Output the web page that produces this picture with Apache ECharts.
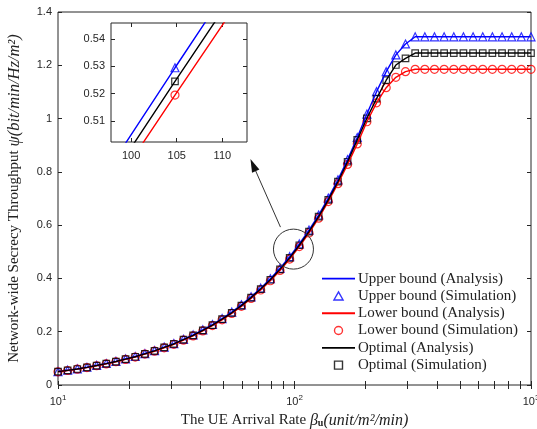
<!DOCTYPE html>
<html>
<head>
<meta charset="utf-8">
<script src="https://cdn.jsdelivr.net/npm/echarts@6/dist/echarts.min.js"></script>
<style>
html, body { margin: 0; padding: 0; background: #fff; }
#chart { width: 537px; height: 429px; }
</style>
</head>
<body>
<div id="chart"></div>
<script>
// UE arrival rate (50 points, log spaced 10..1000)
const arrivalRate = [
  10, 10.985, 12.068, 13.257, 14.563, 15.999, 17.575, 19.307, 21.210, 23.300,
  25.595, 28.118, 30.888, 33.932, 37.276, 40.949, 44.984, 49.417, 54.287, 59.636,
  65.513, 71.969, 79.060, 86.851, 95.410, 104.81, 115.14, 126.49, 138.95, 152.64,
  167.68, 184.21, 202.36, 222.30, 244.21, 268.27, 294.71, 323.75, 355.65, 390.70,
  429.19, 471.49, 517.95, 568.99, 625.06, 686.65, 754.31, 828.64, 910.30, 1000
]
const upperBound = [
  0.0505, 0.0555, 0.0606, 0.0666, 0.0737, 0.0808, 0.0888, 0.0979, 0.1070, 0.1181,
  0.1292, 0.1423, 0.1555, 0.1716, 0.1878, 0.2069, 0.2271, 0.2493, 0.2736, 0.3008,
  0.3311, 0.3634, 0.3988, 0.4381, 0.4815, 0.5295, 0.5815, 0.6380, 0.7016, 0.7702,
  0.8460, 0.929, 1.017, 1.101, 1.176, 1.239, 1.280, 1.307, 1.307, 1.307,
  1.307, 1.307, 1.307, 1.307, 1.307, 1.307, 1.307, 1.307, 1.307, 1.307
]
const lowerBound = [
  0.0495, 0.0545, 0.0594, 0.0654, 0.0723, 0.0792, 0.0872, 0.0961, 0.1050, 0.1159,
  0.1268, 0.1397, 0.1525, 0.1684, 0.1842, 0.2031, 0.2229, 0.2447, 0.2684, 0.2952,
  0.3249, 0.3566, 0.3912, 0.4299, 0.4725, 0.5195, 0.5705, 0.6260, 0.6884, 0.7557,
  0.828, 0.905, 0.988, 1.059, 1.116, 1.155, 1.176, 1.185, 1.185, 1.185,
  1.185, 1.185, 1.185, 1.185, 1.185, 1.185, 1.185, 1.185, 1.185, 1.185
]
const optimal = [
  0.050, 0.055, 0.060, 0.066, 0.073, 0.080, 0.088, 0.097, 0.106, 0.117,
  0.128, 0.141, 0.154, 0.170, 0.186, 0.205, 0.225, 0.247, 0.271, 0.298,
  0.328, 0.360, 0.395, 0.434, 0.477, 0.5245, 0.576, 0.632, 0.695, 0.763,
  0.838, 0.920, 1.001, 1.075, 1.144, 1.201, 1.226, 1.246, 1.246, 1.246,
  1.246, 1.246, 1.246, 1.246, 1.246, 1.246, 1.246, 1.246, 1.246, 1.246
]

const xTicks = [10, 20, 30, 40, 50, 60, 70, 80, 90, 100, 200, 300, 400, 500, 600, 700, 800, 900, 1000]
const xLabels = [10, 100, 1000]
const insetXTicks = [100, 105, 110]
const insetYTicks = [0.51, 0.52, 0.53, 0.54]

const lineIcon = 'path://M0,0 L33,0 L33,1.8 L0,1.8 Z'
const curves = [
  { name: 'Upper bound', color: '#0000ff', values: upperBound, symbol: 'triangle', size: 8,
    icon: 'path://M4,0 L8,7 L0,7 Z' },
  { name: 'Lower bound', color: '#ff0000', values: lowerBound, symbol: 'circle', size: 8,
    icon: 'path://M7,3.5 A3.5,3.5 0 1,1 0,3.5 A3.5,3.5 0 1,1 7,3.5 Z' },
  { name: 'Optimal', color: '#000000', values: optimal, symbol: 'rect', size: 6.5,
    icon: 'path://M0,0 L6,0 L6,6 L0,6 Z' },
]

const axisColor = '#262626'
const tickFont = { fontFamily: 'Liberation Sans', fontSize: 11, color: axisColor }
const serif = 'Liberation Serif'

function pairs(values) {
  return arrivalRate.map((x, i) => [x, values[i]])
}

function buildSeries(xIdx, yIdx, suffix) {
  const list = []
  curves.forEach((c) => {
    list.push({
      name: c.name + ' (Analysis)' + suffix,
      type: 'line',
      xAxisIndex: xIdx,
      yAxisIndex: yIdx,
      symbol: 'none',
      clip: true,
      lineStyle: { color: c.color, width: 1.4 },
      itemStyle: { color: c.color },
      data: pairs(c.values),
    })
    list.push({
      name: c.name + ' (Simulation)' + suffix,
      type: 'scatter',
      xAxisIndex: xIdx,
      yAxisIndex: yIdx,
      symbol: c.symbol,
      symbolSize: c.size,
      clip: true,
      itemStyle: { color: 'rgba(0,0,0,0)', borderColor: c.color, borderWidth: 1.2 },
      data: pairs(c.values),
    })
  })
  return list
}

const legendData = []
curves.forEach((c) => {
  legendData.push({
    name: c.name + ' (Analysis)',
    icon: lineIcon,
    itemStyle: { color: c.color, borderWidth: 0 },
  })
  legendData.push({
    name: c.name + ' (Simulation)',
    icon: c.icon,
    itemStyle: { color: 'rgba(0,0,0,0)', borderColor: c.color, borderWidth: 1.4 },
  })
})

const tickStyle = { inside: true, length: 4, lineStyle: { color: axisColor, width: 1 } }

const chart = echarts.init(document.getElementById('chart'))

chart.setOption({
  animation: false,
  backgroundColor: '#fff',
  grid: [
    { left: 58, right: 6, top: 12, bottom: 44, show: true, borderColor: axisColor, borderWidth: 1,
      backgroundColor: '#fff', containLabel: false, outerBoundsMode: 'none' },
    { left: 111, top: 23, width: 136, height: 119, show: true, borderColor: axisColor, borderWidth: 1,
      backgroundColor: '#fff', containLabel: false, outerBoundsMode: 'none' },
  ],
  xAxis: [
    {
      type: 'log', logBase: 10, min: 10, max: 1000, gridIndex: 0, position: 'bottom',
      axisLine: { show: false },
      axisTick: Object.assign({ customValues: xTicks }, tickStyle),
      splitLine: { show: false },
      axisLabel: Object.assign({
        customValues: xLabels,
        margin: 9,
        formatter: (v) => '10{e|' + Math.round(Math.log10(v)) + '}',
        rich: { e: { fontFamily: 'Liberation Sans', fontSize: 8, color: axisColor, padding: [0, 0, 8, 0] } },
      }, tickFont),
      name: '{n|The UE Arrival Rate }{m|β}{s|u}{m|(unit/m²/min)}',
      nameLocation: 'middle',
      nameGap: 25,
      nameTextStyle: {
        rich: {
          n: { fontFamily: serif, fontSize: 15, color: '#222' },
          m: { fontFamily: serif, fontSize: 16, fontStyle: 'italic', color: '#222' },
          s: { fontFamily: serif, fontSize: 10, fontWeight: 'bold', color: '#222', padding: [6, 0, 0, 0] },
        },
      },
    },
    {
      type: 'log', logBase: 10, min: 10, max: 1000, gridIndex: 0, position: 'top',
      axisLine: { show: false },
      axisTick: Object.assign({ customValues: xTicks }, tickStyle),
      axisLabel: { show: false },
      splitLine: { show: false },
    },
    {
      type: 'value', min: 97.8, max: 112.7, gridIndex: 1, position: 'bottom',
      axisLine: { show: false },
      axisTick: Object.assign({ customValues: insetXTicks }, tickStyle),
      axisLabel: Object.assign({ customValues: insetXTicks, margin: 8 }, tickFont),
      splitLine: { show: false },
    },
    {
      type: 'value', min: 97.8, max: 112.7, gridIndex: 1, position: 'top',
      axisLine: { show: false },
      axisTick: Object.assign({ customValues: insetXTicks }, tickStyle),
      axisLabel: { show: false },
      splitLine: { show: false },
    },
  ],
  yAxis: [
    {
      type: 'value', min: 0, max: 1.4, interval: 0.2, gridIndex: 0, position: 'left',
      axisLine: { show: false },
      axisTick: tickStyle,
      splitLine: { show: false },
      axisLabel: Object.assign({ margin: 6 }, tickFont),
      name: '{n|Network-wide Secrecy Throughput }{m|ψ(bit/min/Hz/m²)}',
      nameLocation: 'middle',
      nameRotate: 90,
      nameGap: 35,
      nameTextStyle: {
        rich: {
          n: { fontFamily: serif, fontSize: 15, color: '#222' },
          m: { fontFamily: serif, fontSize: 16.5, fontStyle: 'italic', color: '#222' },
        },
      },
    },
    {
      type: 'value', min: 0, max: 1.4, interval: 0.2, gridIndex: 0, position: 'right',
      axisLine: { show: false },
      axisTick: tickStyle,
      axisLabel: { show: false },
      splitLine: { show: false },
    },
    {
      type: 'value', min: 0.5023, max: 0.5459, gridIndex: 1, position: 'left',
      axisLine: { show: false },
      axisTick: Object.assign({ customValues: insetYTicks }, tickStyle),
      axisLabel: Object.assign({ customValues: insetYTicks, margin: 6 }, tickFont),
      splitLine: { show: false },
    },
    {
      type: 'value', min: 0.5023, max: 0.5459, gridIndex: 1, position: 'right',
      axisLine: { show: false },
      axisTick: Object.assign({ customValues: insetYTicks }, tickStyle),
      axisLabel: { show: false },
      splitLine: { show: false },
    },
  ],
  legend: {
    orient: 'vertical',
    left: 322,
    top: 270,
    itemWidth: 33,
    itemHeight: 8,
    itemGap: 0,
    padding: 0,
    symbolKeepAspect: true,
    textStyle: { fontFamily: serif, fontSize: 15, color: '#222', lineHeight: 17.3, padding: [0, 0, 0, -2] },
    data: legendData,
  },
  series: buildSeries(0, 0, '').concat(buildSeries(2, 2, ' inset')),
})

// zoom circle and arrow pointing at the inset
const c = chart.convertToPixel({ xAxisIndex: 0, yAxisIndex: 0 }, [99, 0.51])
const start = [c[0] - 13, c[1] - 22]
const tip = [c[0] - 43, c[1] - 90]
const dx = tip[0] - start[0]
const dy = tip[1] - start[1]
const len = Math.sqrt(dx * dx + dy * dy)
const ux = dx / len
const uy = dy / len
const headLen = 13
const headHalf = 4
const base = [tip[0] - ux * headLen, tip[1] - uy * headLen]

chart.setOption({
  graphic: [
    {
      type: 'circle', z: 50,
      shape: { cx: c[0], cy: c[1], r: 20 },
      style: { fill: 'none', stroke: '#333', lineWidth: 1 },
    },
    {
      type: 'line', z: 50,
      shape: { x1: start[0], y1: start[1], x2: base[0], y2: base[1] },
      style: { stroke: '#333', lineWidth: 1 },
    },
    {
      type: 'polygon', z: 50,
      shape: {
        points: [
          tip,
          [base[0] - uy * headHalf, base[1] + ux * headHalf],
          [base[0] + uy * headHalf, base[1] - ux * headHalf],
        ],
      },
      style: { fill: '#111' },
    },
  ],
})
</script>
</body>
</html>
